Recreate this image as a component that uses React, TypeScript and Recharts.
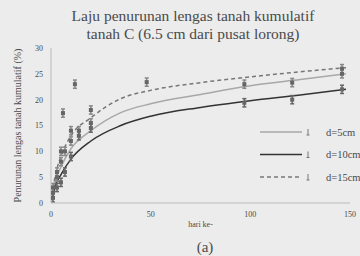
import {
  ComposedChart,
  Line,
  Scatter,
  ErrorBar,
  XAxis,
  YAxis,
} from "recharts";

const titleLines = [
  "Laju penurunan lengas tanah kumulatif",
  "tanah C (6.5 cm dari pusat lorong)",
];
const xTicks = [0, 50, 100, 150];
const yTicks = [0, 5, 10, 15, 20, 25, 30];
const seriesNames = ["d=5cm", "d=10cm", "d=15cm"];

// fitted curves
const curveX = [0.5, 2, 5, 10, 20, 35, 50, 75, 100, 125, 148];
const curve5 = [1, 4, 7, 10.5, 14, 17.5, 19.2, 21, 22.7, 23.9, 25];
const curve10 = [0.5, 3, 5.5, 8.5, 12, 15, 16.8, 18.5, 19.8, 20.9, 22];
const curve15 = [1.5, 5, 9, 13, 16.5, 20.2, 21.8, 23.3, 24.4, 25.4, 26.2];

// measured points
const pts5X = [1, 3, 5, 7, 10, 14, 20, 97, 121, 146];
const pts5Y = [2, 5, 8, 10, 12, 14, 15.5, 23, 23.3, 25];
const pts10X = [1, 3, 5, 7, 10, 14, 20, 97, 121, 146];
const pts10Y = [1, 3, 4, 6, 9, 13, 14.5, 19.4, 20, 22];
const pts15X = [1, 3, 5, 6, 10, 12, 20, 48, 146];
const pts15Y = [3, 6, 10, 17.4, 14, 23, 18, 23.4, 26];
const errSize = 0.8;

const toLine = (xs: number[], ys: number[]) => xs.map((x, i) => ({ x, y: ys[i] }));
const toPts = (xs: number[], ys: number[]) =>
  xs.map((x, i) => ({ x, y: ys[i], e: errSize }));

const ink = "#4a4a4a";
const serif = "Liberation Serif";
const styles = [
  { stroke: "#a8a8a8", dash: undefined as string | undefined },
  { stroke: "#333", dash: undefined as string | undefined },
  { stroke: "#777", dash: "4 3" },
];

function LegendBox() {
  return (
    <svg width={110} height={70} style={{ position: "absolute", left: 258, top: 124 }}>
      {seriesNames.map((name, i) => {
        const y = 8 + i * 22.5;
        return (
          <g key={name}>
            <line x1={2} x2={44} y1={y} y2={y} stroke={styles[i].stroke}
              strokeWidth={1.5} strokeDasharray={styles[i].dash} />
            <line x1={50} x2={50} y1={y - 3} y2={y + 3} stroke="#777" />
            <line x1={48.5} x2={51.5} y1={y + 3} y2={y + 3} stroke="#777" />
            <text x={68} y={y + 3.5} fontSize={10.5} fill={ink}
              style={{ fontFamily: serif }}>{name}</text>
          </g>
        );
      })}
    </svg>
  );
}

const Dot = (props: any) => (
  <rect x={props.cx - 2} y={props.cy - 2} width={4} height={4} fill="#666" />
);

const tickStyle = { fontSize: 8, fill: ink };

export default function App() {
  return (
    <div style={{ position: "absolute", left: 0, top: 0, width: 360, height: 256,
      overflow: "hidden", background: "#ececec", fontFamily: serif }}>
      <style>{`.recharts-wrapper text { font-family: "Liberation Serif", serif; }`}</style>
      <div style={{ position: "absolute", left: 0, top: 7, width: 386,
        textAlign: "center", fontSize: 15.5, lineHeight: "18px", color: ink }}>
        {titleLines.map((t) => <div key={t}>{t}</div>)}
      </div>
      <div style={{ position: "absolute", left: 190, top: 239, width: 30,
        textAlign: "center", fontSize: 15, color: ink }}>(a)</div>
      <ComposedChart width={360} height={256}
        margin={{ top: 48, right: 10, bottom: 33, left: 11 }}>
        <XAxis dataKey="x" type="number" domain={[0, 150]} ticks={xTicks}
          height={20} stroke="#bbb" tickLine={false} tick={tickStyle}
          label={{ value: "hari ke-", position: "insideBottom", offset: -4,
            fontSize: 8, fill: ink }} />
        <YAxis type="number" domain={[0, 30]} ticks={yTicks} width={40}
          stroke="#bbb" tickLine={false} tick={tickStyle}
          label={{ value: "Penurunan lengas tanah kumulatif (%)", angle: -90,
            position: "insideLeft", offset: 6, fontSize: 10, fill: ink,
            style: { textAnchor: "middle" } }} />
        <Line data={toLine(curveX, curve5)} dataKey="y" type="monotone"
          stroke={styles[0].stroke} strokeWidth={1.5} dot={false}
          isAnimationActive={false} />
        <Line data={toLine(curveX, curve10)} dataKey="y" type="monotone"
          stroke={styles[1].stroke} strokeWidth={1.5} dot={false}
          isAnimationActive={false} />
        <Line data={toLine(curveX, curve15)} dataKey="y" type="monotone"
          stroke={styles[2].stroke} strokeWidth={1.5} strokeDasharray="4 3"
          dot={false} isAnimationActive={false} />
        <Scatter data={toPts(pts5X, pts5Y)} dataKey="y" shape={Dot}
          isAnimationActive={false}>
          <ErrorBar dataKey="e" direction="y" width={2} stroke="#888" />
        </Scatter>
        <Scatter data={toPts(pts10X, pts10Y)} dataKey="y" shape={Dot}
          isAnimationActive={false}>
          <ErrorBar dataKey="e" direction="y" width={2} stroke="#666" />
        </Scatter>
        <Scatter data={toPts(pts15X, pts15Y)} dataKey="y" shape={Dot}
          isAnimationActive={false}>
          <ErrorBar dataKey="e" direction="y" width={2} stroke="#888" />
        </Scatter>
      </ComposedChart>
      <LegendBox />
    </div>
  );
}
